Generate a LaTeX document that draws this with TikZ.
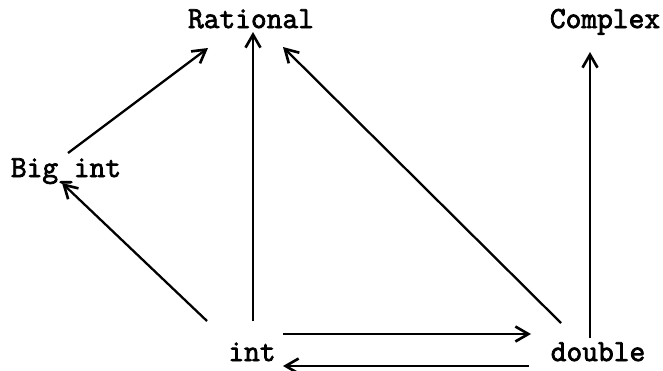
\documentclass[tikz,border=0pt]{standalone}
\usepackage{fontspec}
\usepackage{tikz}
\usetikzlibrary{arrows.meta}
\newfontfamily\tyfont{Latin Modern Mono}[FakeBold=2.5]
\tikzset{
  tyname/.style={font=\fontsize{17.4}{20}\selectfont\tyfont\bfseries, inner sep=0pt, anchor=base},
  conv/.style={-{Straight Barb[length=2.6mm, width=3mm, line width=1.5pt]}, line width=1.3pt}
}
\begin{document}
\begin{tikzpicture}[x=0.02cm, y=-0.02cm]
  \useasboundingbox (0,0) rectangle (663,370);
  % type names
  \node[tyname] (rational) at (251,28) {Rational};
  \node[tyname] (complex) at (605,28) {Complex};
  \node[tyname] (bigint) at (66,177) {Big\_int};
  \node[tyname] (int) at (252,361) {int};
  \node[tyname] (double) at (598,361) {double};
  % conversions
  \draw[conv] ([shift={(2,-24)}]bigint.base) -- ([shift={(-43,20)}]rational.base);
  \draw[conv] ([shift={(-45,-40)}]int.base) -- ([shift={(-4,6)}]bigint.base);
  \draw[conv] ([shift={(1,-40)}]int.base) -- ([shift={(2,4)}]rational.base);
  \draw[conv] ([shift={(-37,-38)}]double.base) -- ([shift={(32,19)}]rational.base);
  \draw[conv] ([shift={(-8,-23)}]double.base) -- ([shift={(-15,24)}]complex.base);
  \draw[conv] ([shift={(31,-27)}]int.base) -- ([shift={(-67,-27)}]double.base);
  \draw[conv] ([shift={(-69,5)}]double.base) -- ([shift={(31,5)}]int.base);
\end{tikzpicture}
\end{document}
